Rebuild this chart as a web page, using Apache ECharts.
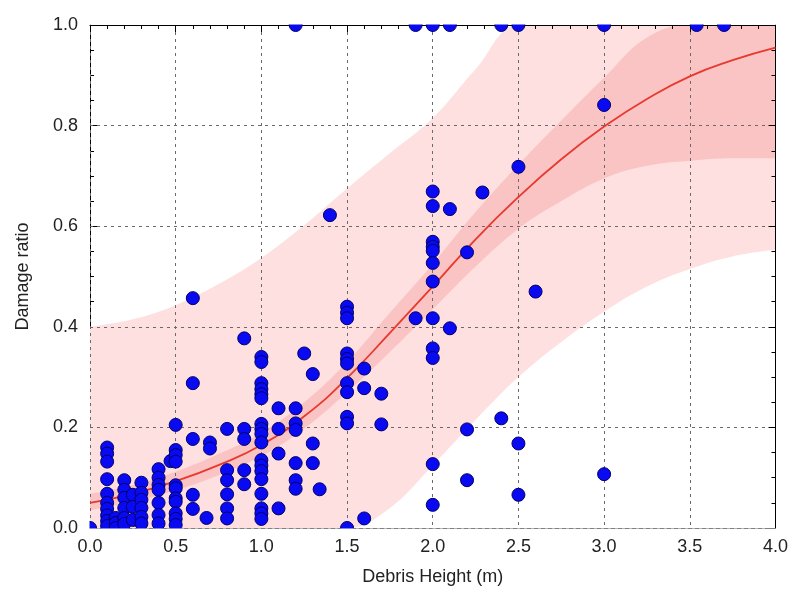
<!DOCTYPE html>
<html><head><meta charset="utf-8">
<script src="https://cdn.jsdelivr.net/npm/echarts@6/dist/echarts.min.js"></script>
<style>html,body{margin:0;padding:0;background:#fff}#chart{width:791px;height:594px}</style>
</head><body><div id="chart"></div>
<script>
// ---- tick labels ----
const xTickLabels = ['0.0','0.5','1.0','1.5','2.0','2.5','3.0','3.5','4.0'];
const yTickLabels = ['0.0','0.2','0.4','0.6','0.8','1.0'];

// ---- observed points (x, damage ratio) ----
const obsX = [
 0.0,
 0.1,0.1,0.1,0.1,0.1,0.1,0.1,0.1,0.1,0.1,
 0.15,0.15,0.15,
 0.2,0.2,0.2,0.2,0.2,0.2,
 0.25,0.25,0.25,
 0.3,0.3,0.3,0.3,0.3,0.3,
 0.4,0.4,0.4,0.4,0.4,0.4,0.4,
 0.47,
 0.5,0.5,0.5,0.5,0.5,0.5,0.5,0.5,0.5,0.5,0.5,
 0.6,0.6,0.6,0.6,0.6,
 0.68,
 0.7,0.7,
 0.8,0.8,0.8,0.8,0.8,0.8,
 0.9,0.9,0.9,0.9,0.9,
 1.0,1.0,1.0,1.0,1.0,1.0,1.0,1.0,1.0,1.0,1.0,1.0,1.0,1.0,1.0,1.0,1.0,1.0,
 1.1,1.1,1.1,1.1,
 1.2,1.2,1.2,1.2,1.2,1.2,1.2,
 1.25,
 1.3,1.3,1.3,
 1.34,
 1.4,
 1.5,1.5,1.5,1.5,1.5,1.5,1.5,1.5,1.5,1.5,1.5,
 1.6,1.6,1.6,
 1.7,1.7,
 1.9,1.9,
 2.0,2.0,2.0,2.0,2.0,2.0,2.0,2.0,2.0,2.0,2.0,2.0,2.0,
 2.1,2.1,2.1,
 2.2,2.2,2.2,
 2.29,
 2.4,2.4,
 2.5,2.5,2.5,2.5,
 2.6,
 3.0,3.0,3.0,
 3.54,
 3.7
];
const obsY = [
 0.0,
 0.16,0.148,0.132,0.097,0.068,0.05,0.038,0.025,0.014,0.004,
 0.02,0.01,0.0,
 0.095,0.076,0.06,0.04,0.02,0.008,
 0.066,0.042,0.016,
 0.09,0.07,0.056,0.04,0.022,0.009,
 0.117,0.1,0.086,0.076,0.05,0.026,0.009,
 0.133,
 0.205,0.155,0.145,0.132,0.085,0.079,0.059,0.052,0.029,0.018,0.006,
 0.457,0.288,0.177,0.066,0.038,
 0.02,
 0.17,0.158,
 0.197,0.115,0.095,0.067,0.039,0.019,
 0.377,0.197,0.177,0.115,0.087,
 0.34,0.33,0.288,0.276,0.266,0.258,0.207,0.197,0.187,0.17,0.135,0.124,0.113,0.097,0.068,0.039,0.029,0.018,
 0.238,0.197,0.148,0.039,
 1.0,0.238,0.208,0.195,0.129,0.095,0.078,
 0.347,
 0.306,0.168,0.129,
 0.077,
 0.622,
 0.44,0.428,0.417,0.347,0.336,0.327,0.288,0.27,0.221,0.208,0.0,
 0.317,0.278,0.019,
 0.267,0.206,
 1.0,0.417,
 1.0,0.669,0.64,0.569,0.559,0.551,0.527,0.49,0.417,0.357,0.338,0.127,0.046,
 1.0,0.634,0.397,
 0.548,0.196,0.095,
 0.667,
 1.0,0.218,
 1.0,0.718,0.168,0.066,
 0.47,
 1.0,0.841,0.107,
 1.0,
 1.0
];

// ---- fitted curve and bands ----
const fitX      = [0, 0.25, 0.5, 0.75, 1.0, 1.25, 1.5, 1.75, 2.0, 2.25, 2.5, 2.75, 3.0, 3.25, 3.5, 3.75, 4.0];
const fitY      = [0.05, 0.068, 0.093, 0.125, 0.165, 0.222, 0.298, 0.388, 0.48, 0.574, 0.658, 0.733, 0.798, 0.853, 0.898, 0.93, 0.955];
const innerLow  = [0.035, 0.052, 0.075, 0.105, 0.143, 0.198, 0.27, 0.35, 0.435, 0.52, 0.595, 0.65, 0.695, 0.72, 0.73, 0.735, 0.735];
const innerHigh = [0.068, 0.085, 0.112, 0.147, 0.189, 0.25, 0.33, 0.428, 0.525, 0.628, 0.722, 0.81, 0.895, 0.975, 1.0, 1.0, 1.0];
const outerLow  = [0, 0, 0, 0, 0, 0, 0, 0.04, 0.125, 0.215, 0.30, 0.37, 0.43, 0.48, 0.515, 0.54, 0.553];
const outerHigh = [0.40, 0.415, 0.443, 0.485, 0.537, 0.602, 0.675, 0.745, 0.815, 0.912, 1.0, 1.0, 1.0, 1.0, 1.0, 1.0, 1.0];

const pair = (xs, ys) => xs.map((x, i) => [x, ys[i]]);

const LIGHT = '#fde0df', DARK = '#f9c4c3';
const chart = echarts.init(document.getElementById('chart'), null, {renderer: 'canvas'});
const FONT = 'Liberation Sans, Arial, sans-serif';
const spine = {show: true, onZero: false, lineStyle: {color: '#000', width: 1}};
const ticks = {show: true, inside: true, length: 7, lineStyle: {color: '#000'}};
const gridLine = {show: true, lineStyle: {color: '#6a6a6a', type: [3, 4], width: 1}};
const txt = {fontSize: 18, color: '#222', fontFamily: FONT};

// filled-to-axis areas layered to form the bands
const bandLayer = (ys, color, z) => ({
  type: 'line', data: pair(fitX, ys), symbol: 'none', smooth: 0.4, silent: true,
  lineStyle: {opacity: 0}, areaStyle: {color: color, opacity: 1}, z: z
});

chart.setOption({
  animation: false,
  backgroundColor: '#fff',
  grid: {left: 90, right: 15, top: 25, bottom: 66},
  xAxis: [
    {
      type: 'value', min: 0, max: 4, interval: 0.5, position: 'bottom',
      axisLine: spine, axisTick: ticks,
      minorTick: {show: true, splitNumber: 5, length: 4, lineStyle: {color: '#000'}},
      splitLine: {show: false},
      axisLabel: Object.assign({margin: 10, formatter: v => xTickLabels[Math.round(v / 0.5)]}, txt),
      name: 'Debris Height (m)', nameLocation: 'middle', nameGap: 40, nameTextStyle: txt
    },
    {
      type: 'value', min: 0, max: 4, interval: 0.5, position: 'top', z: 5,
      axisLine: spine, axisTick: ticks,
      minorTick: {show: true, splitNumber: 5, length: 4, lineStyle: {color: '#000'}},
      splitLine: gridLine, axisLabel: {show: false}
    }
  ],
  yAxis: [
    {
      type: 'value', min: 0, max: 1, interval: 0.2, position: 'left',
      axisLine: spine, axisTick: ticks,
      minorTick: {show: true, splitNumber: 4, length: 4, lineStyle: {color: '#000'}},
      splitLine: {show: false},
      axisLabel: Object.assign({margin: 12, formatter: v => yTickLabels[Math.round(v / 0.2)]}, txt),
      name: 'Damage ratio', nameLocation: 'middle', nameGap: 58, nameRotate: 90, nameTextStyle: txt
    },
    {
      type: 'value', min: 0, max: 1, interval: 0.2, position: 'right', z: 5,
      axisLine: spine, axisTick: ticks,
      minorTick: {show: true, splitNumber: 4, length: 4, lineStyle: {color: '#000'}},
      splitLine: gridLine, axisLabel: {show: false}
    }
  ],
  series: [
    bandLayer(outerHigh, LIGHT, 1),
    bandLayer(innerHigh, DARK, 1),
    bandLayer(innerLow, LIGHT, 1),
    bandLayer(outerLow, '#ffffff', 1),
    {type: 'line', data: pair(fitX, fitY), symbol: 'none', smooth: 0.5,
     lineStyle: {color: '#e8392f', width: 1.8}, z: 8},
    {type: 'scatter', data: pair(obsX, obsY), symbolSize: 13, clip: false,
     itemStyle: {color: '#0a0af2', borderColor: '#00006a', borderWidth: 1, opacity: 1}, z: 10}
  ],
  graphic: [
    {type: 'rect', shape: {x: 80, y: 0, width: 711, height: 24.5}, style: {fill: '#fff'}, z: 100, silent: true},
    {type: 'rect', shape: {x: 80, y: 528.6, width: 711, height: 7}, style: {fill: '#fff'}, z: 100, silent: true},
    {type: 'rect', shape: {x: 80, y: 515, width: 9.5, height: 20}, style: {fill: '#fff'}, z: 100, silent: true}
  ]
});
</script></body></html>
